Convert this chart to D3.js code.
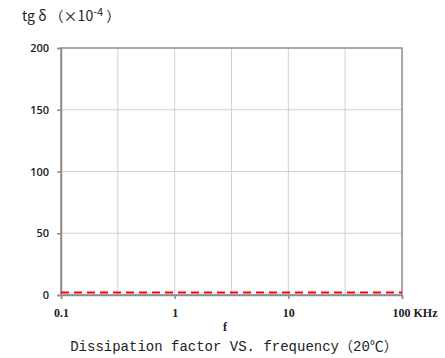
<!DOCTYPE html>
<html>
<head>
<meta charset="utf-8">
<script src="https://cdn.jsdelivr.net/npm/d3@7"></script>
<style>
  body { margin: 0; background: #fff; }
  svg text { font-family: "Liberation Serif", "DejaVu Serif", serif; fill: #222; }
</style>
</head>
<body>
<svg id="chart" width="445" height="358"></svg>
<script>
// data
const freqs = [0.1, 0.2, 0.5, 1, 2, 5, 10, 20, 50, 100];
const tanDelta = [2, 2, 2, 2, 2, 2, 2, 2, 2, 2];
const xTicks = [0.1, 1, 10, 100];
const xTickLabels = ['0.1', '1', '10', '100 KHz'];
const xGrid = [0.1, 0.316, 1, 3.16, 10, 31.6, 100];
const yTicks = [0, 50, 100, 150, 200];

const margin = {left: 61, right: 43, top: 48, bottom: 63};
const width = 445, height = 358;
const svg = d3.select('#chart');

const x = d3.scaleLog().domain([0.1, 100]).range([margin.left, width - margin.right]);
const y = d3.scaleLinear().domain([0, 200]).range([height - margin.bottom, margin.top]);

// grid
svg.append('g').selectAll('line').data(xGrid.slice(1, -1)).enter().append('line')
  .attr('x1', d => x(d)).attr('x2', d => x(d))
  .attr('y1', y(0)).attr('y2', y(200))
  .attr('stroke', '#cfcfcf').attr('stroke-width', 1);
svg.append('g').selectAll('line').data(yTicks.slice(1, -1)).enter().append('line')
  .attr('x1', x(0.1)).attr('x2', x(100))
  .attr('y1', d => y(d)).attr('y2', d => y(d))
  .attr('stroke', '#cfcfcf').attr('stroke-width', 1);

// border
svg.append('rect')
  .attr('x', x(0.1)).attr('y', y(200))
  .attr('width', x(100) - x(0.1)).attr('height', y(0) - y(200))
  .attr('fill', 'none').attr('stroke', '#8c8c8c').attr('stroke-width', 1.5);

// axes
const yAxis = svg.append('g').attr('transform', 'translate(' + x(0.1) + ',0)')
  .call(d3.axisLeft(y).tickValues(yTicks).tickSize(4).tickPadding(8));
yAxis.select('.domain').attr('stroke', '#8c8c8c').attr('stroke-width', 1.5);
yAxis.selectAll('.tick line').attr('stroke', '#8c8c8c').attr('stroke-width', 1.5);
yAxis.selectAll('.tick text').style('font-family', '"Open Sans", "DejaVu Sans", sans-serif')
  .style('font-size', '11px').style('font-weight', '600').attr('fill', '#333');

const xAxis = svg.append('g').attr('transform', 'translate(0,' + y(0) + ')')
  .call(d3.axisBottom(x).tickValues(xTicks).tickFormat((d, i) => xTickLabels[i]).tickSize(4).tickPadding(9));
xAxis.select('.domain').attr('stroke', '#8c8c8c').attr('stroke-width', 1.5);
xAxis.selectAll('.tick line').attr('stroke', '#8c8c8c').attr('stroke-width', 1.5);
xAxis.selectAll('.tick text').style('font-size', '12px').style('font-weight', 'bold').attr('fill', '#333');
xAxis.selectAll('.tick text').filter(d => d === 100).attr('text-anchor', 'start').attr('dx', '-10');

// series
const line = d3.line().x((d, i) => x(freqs[i])).y(d => y(d));
svg.append('path').datum(tanDelta)
  .attr('d', line)
  .attr('fill', 'none').attr('stroke', '#ff0000').attr('stroke-width', 2)
  .attr('stroke-dasharray', '8,5');

// labels
svg.append('text').attr('x', 22).attr('y', 21)
  .style('font-size', '14px').style('font-family', '"Noto Sans CJK SC", "DejaVu Sans", sans-serif').attr('fill', '#333')
  .html('tg δ （×10<tspan dy="-5" font-size="11">-4</tspan><tspan dy="5"> ）</tspan>');
svg.append('text').attr('x', 225).attr('y', 331).attr('text-anchor', 'middle')
  .style('font-size', '12px').style('font-weight', 'bold').text('f');
svg.append('text').attr('x', 234).attr('y', 351).attr('text-anchor', 'middle')
  .style('font-family', '"Liberation Mono", "Noto Sans CJK SC", monospace').style('font-size', '14px')
  .text('Dissipation factor VS. frequency（20℃）');
</script>
</body>
</html>
